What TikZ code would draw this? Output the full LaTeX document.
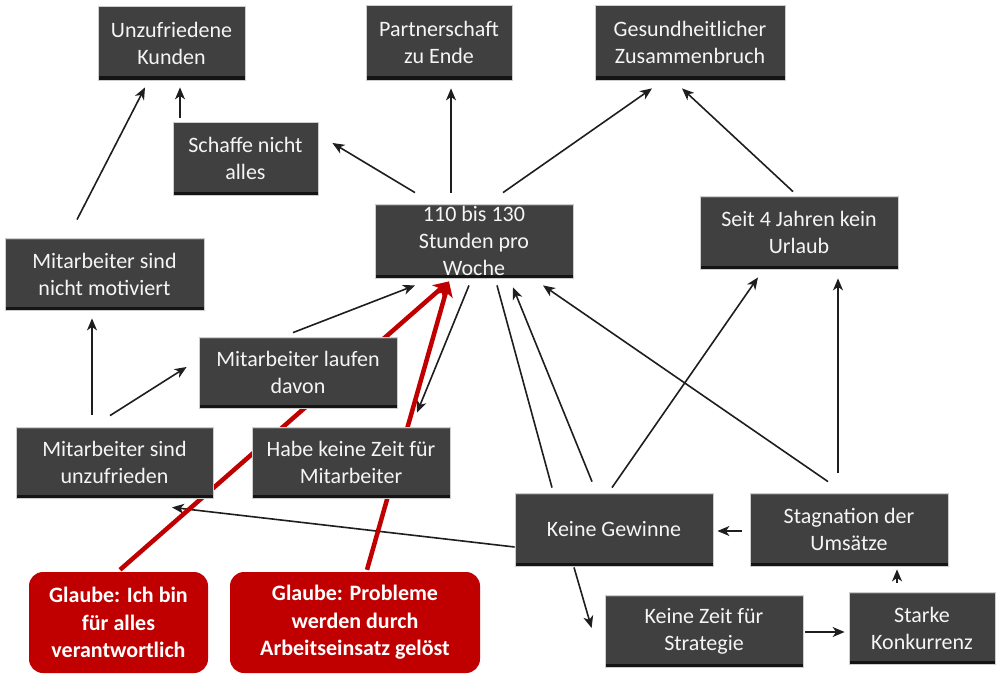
\documentclass[tikz,border=0pt]{standalone}
\usepackage{fontspec}
\setmainfont{Carlito}
\usetikzlibrary{arrows.meta}
\definecolor{boxgray}{HTML}{404040}
\definecolor{boxedge}{HTML}{141414}
\definecolor{boxrim}{HTML}{CDCDCD}
\definecolor{boxtext}{HTML}{F5F5F5}
\definecolor{beliefred}{HTML}{C00000}
\definecolor{linegray}{HTML}{1E1E1E}
\pgfdeclarelayer{canvas}
\pgfdeclarelayer{background}
\pgfsetlayers{canvas,background,main}
\tikzset{
 box/.style={fill=boxgray, draw=boxrim, line width=0.8pt, text=boxtext, align=center, inner sep=0pt,
   font=\fontsize{22}{27}\selectfont,
   path picture={\fill[boxedge] ([yshift=3.5pt]path picture bounding box.south west) rectangle (path picture bounding box.south east);
                 \fill[white,opacity=0.18] (path picture bounding box.north west) rectangle ([yshift=-1.5pt]path picture bounding box.north east);}},
 belief/.style={fill=beliefred, rounded corners=14pt, text=white, align=center, inner sep=0pt,
   font=\fontsize{22}{27.5}\selectfont\bfseries},
 arr/.style={draw=linegray, line width=1.6pt, -{Stealth[length=12pt,width=10pt,inset=3.5pt]}},
 plainline/.style={draw=linegray, line width=1.6pt},
 redarr/.style={draw=beliefred, line width=4.5pt, -{Stealth[length=15pt,width=16pt,inset=4pt]}},
}
\begin{document}
\begin{tikzpicture}[x=1pt,y=-1pt]
\begin{pgfonlayer}{canvas}
\fill[white] (0,0) rectangle (1000,679);
\end{pgfonlayer}
\useasboundingbox (0,0) rectangle (1000,679);
% boxes
\node[box, minimum width=147pt, minimum height=74pt] (kunden) at (171.5,43) {Unzufriedene\\Kunden};
\node[box, minimum width=146pt, minimum height=75pt] (partner) at (439,42.5) {Partnerschaft\\zu Ende};
\node[box, minimum width=190pt, minimum height=75pt] (gesund) at (690,42.5) {Gesundheitlicher\\Zusammenbruch};
\node[box, minimum width=145pt, minimum height=73pt] (schaffe) at (245.5,158.5) {Schaffe nicht\\alles};
\node[box, minimum width=198pt, minimum height=74pt] (stunden) at (474,241) {110 bis 130\\Stunden pro\\Woche};
\node[box, minimum width=198pt, minimum height=73pt] (urlaub) at (799,232.5) {Seit 4 Jahren kein\\Urlaub};
\node[box, minimum width=199pt, minimum height=72pt] (motiv) at (104.5,274) {Mitarbeiter sind\\nicht motiviert};
\node[box, minimum width=198pt, minimum height=71pt] (laufen) at (298,372.5) {Mitarbeiter laufen\\davon};
\node[box, minimum width=197pt, minimum height=71pt] (unzufr) at (114.5,462.5) {Mitarbeiter sind\\unzufrieden};
\node[box, minimum width=198pt, minimum height=71pt] (habe) at (351,462.5) {Habe keine Zeit für\\Mitarbeiter};
\node[box, minimum width=198pt, minimum height=73pt] (gewinne) at (614,529.5) {Keine Gewinne};
\node[box, minimum width=198pt, minimum height=73pt] (stagn) at (849,529.5) {Stagnation der\\Umsätze};
\node[box, minimum width=198pt, minimum height=72pt] (strategie) at (704,631) {Keine Zeit für\\Strategie};
\node[box, minimum width=146pt, minimum height=72pt] (konkurrenz) at (922,628) {Starke\\Konkurrenz};
\node[belief, minimum width=179pt, minimum height=101pt] (glaube1) at (118.5,622.5) {Glaube: Ich bin\\für alles\\verantwortlich};
\node[belief, minimum width=250pt, minimum height=101pt] (glaube2) at (355,622.5) {Glaube: Probleme\\werden durch\\Arbeitseinsatz gelöst};
% connectors
\begin{pgfonlayer}{background}
\draw[arr] ([shift={(-65.5,-4)}]schaffe.north) -- ([shift={(8.5,7)}]kunden.south);
\draw[arr] ([shift={(-27.5,-18)}]motiv.north) -- ([shift={(-26.5,7)}]kunden.south);
\draw[arr] ([shift={(-59,-11)}]stunden.north) -- ([shift={(14,-15.5)}]schaffe.east);
\draw[arr] ([shift={(-23,-11)}]stunden.north) -- ([shift={(12,8)}]partner.south);
\draw[arr] ([shift={(29,-11)}]stunden.north) -- ([shift={(-38,8)}]gesund.south);
\draw[arr] ([shift={(-6,-4)}]urlaub.north) -- ([shift={(-8,8)}]gesund.south);
\draw[arr] ([shift={(-22.5,-12)}]unzufr.north) -- ([shift={(-12.5,8)}]motiv.south);
\draw[arr] ([shift={(-4.5,-11)}]unzufr.north) -- ([shift={(-12,-5.5)}]laufen.west);
\draw[arr] ([shift={(-5,-4)}]laufen.north) -- ([shift={(-59,7)}]stunden.south);
\draw[arr] ([shift={(-5,7)}]stunden.south) -- ([shift={(66,-14)}]habe.north);
\draw[plainline] ([shift={(-62,-5)}]gewinne.north) -- ([shift={(23,7)}]stunden.south);
\draw[arr] ([shift={(-22,-11)}]gewinne.north) -- ([shift={(39,9)}]stunden.south);
\draw[arr] ([shift={(-21,-11)}]stagn.north) -- ([shift={(69,7)}]stunden.south);
\draw[arr] ([shift={(-2,-5)}]gewinne.north) -- ([shift={(-41,8)}]urlaub.south);
\draw[arr] ([shift={(-11,-20)}]stagn.north) -- ([shift={(39,9)}]urlaub.south);
\draw[arr] ([shift={(-8,1.5)}]stagn.west) -- ([shift={(4,1.5)}]gewinne.east);
\draw[arr] ([shift={(0,17.5)}]gewinne.west) -- ([shift={(57.5,9)}]unzufr.south);
\draw[arr] ([shift={(-40,1)}]gewinne.south) -- ([shift={(-13,-3)}]strategie.west);
\draw[arr] ([shift={(2,1)}]strategie.east) -- ([shift={(-4,4)}]konkurrenz.west);
\draw[arr] ([shift={(-25,-9)}]konkurrenz.north) -- ([shift={(48,3)}]stagn.south);
\draw[redarr] ([shift={(1.5,-2)}]glaube1.north) -- ([shift={(-25,3)}]stunden.south);
\draw[redarr] ([shift={(12,-2)}]glaube2.north) -- ([shift={(-25,3)}]stunden.south);
\end{pgfonlayer}
\end{tikzpicture}
\end{document}
